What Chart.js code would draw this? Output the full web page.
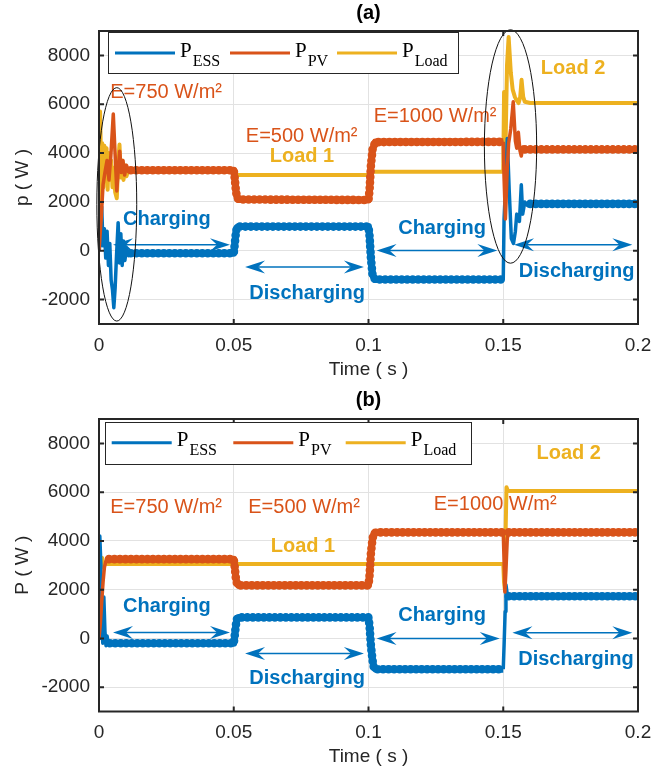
<!DOCTYPE html>
<html>
<head>
<meta charset="utf-8">
<script src="https://cdn.jsdelivr.net/npm/chart.js@4.4.1/dist/chart.umd.min.js"></script>
<style>
  html, body { margin: 0; padding: 0; background: #fff; }
  #wrap { position: relative; width: 668px; height: 774px; }
  .panel { position: absolute; left: 0; width: 668px; height: 387px; }
</style>
</head>
<body>
<div id="wrap">
  <div class="panel" style="top:0"><canvas id="ca" width="668" height="387"></canvas></div>
  <div class="panel" style="top:387px"><canvas id="cb" width="668" height="387"></canvas></div>
</div>
<script>
// ---- axis ticks ----
const timeTicks = [0, 0.05, 0.1, 0.15, 0.2];
const powerTicks = [-2000, 0, 2000, 4000, 6000, 8000];
const seriesNames = [['P', 'ESS'], ['P', 'PV'], ['P', 'Load']];

// ---- panel (a): power flows, time in s, power in W ----
const tEssA = [0, 0.0005, 0.001, 0.0015, 0.002, 0.0025, 0.003, 0.0035, 0.004, 0.0045,
  0.005, 0.0055, 0.006, 0.0065, 0.0071, 0.0076, 0.0081, 0.0086, 0.0091, 0.0096,
  0.0102, 0.011, 0.0118, 0.05, 0.0504, 0.0508, 0.0512, 0.0518, 0.1, 0.1004,
  0.1009, 0.1015, 0.1025, 0.15, 0.1503, 0.151, 0.1515, 0.1522, 0.153, 0.1538,
  0.1545, 0.155, 0.156, 0.1567, 0.1572, 0.158, 0.159, 0.16, 0.2];
const pEssA = [0, 300, 1800, 200, 900, -300, 800, -600, 300, -1200,
  -1600, -2330, -1500, -200, 1150, -500, 700, -600, 400, -400,
  100, -200, -100, -100, 300, 750, 950, 990, 990, 600,
  -300, -1000, -1180, -1180, 1300, 3000, 4600, 2500, 500, 300,
  800, 1500, 1200, 2700, 1500, 2000, 1850, 1920, 1920];

const tPvA = [0, 0.0008, 0.0015, 0.0022, 0.003, 0.0037, 0.0044, 0.0053, 0.006, 0.0066,
  0.0072, 0.0077, 0.0083, 0.0089, 0.0095, 0.0102, 0.011, 0.0118, 0.05, 0.0504,
  0.0508, 0.0512, 0.0518, 0.1, 0.1004, 0.1009, 0.1015, 0.1025, 0.15, 0.1503,
  0.1508, 0.1515, 0.152, 0.1528, 0.1537, 0.1545, 0.155, 0.1556, 0.1562, 0.1567,
  0.1572, 0.158, 0.2];
const pPvA = [0, 1300, 2700, 3200, 3700, 2900, 3900, 5600, 3900, 2450,
  3400, 4080, 3200, 3700, 3100, 3500, 3250, 3300, 3300, 2950,
  2450, 2200, 2100, 2080, 2500, 3500, 4150, 4450, 4460, 3000,
  1300, 3400, 4400, 5000, 6100, 4500, 4200, 4850, 4100, 3880,
  4250, 4150, 4150];

const tLoadA = [0, 0.0004, 0.0008, 0.0012, 0.0016, 0.002, 0.0024, 0.0028, 0.0032, 0.0036,
  0.004, 0.0045, 0.005, 0.0055, 0.006, 0.0066, 0.0071, 0.0076, 0.0081, 0.0086,
  0.0091, 0.0096, 0.0102, 0.011, 0.0118, 0.05, 0.0506, 0.0512, 0.1, 0.1006,
  0.1012, 0.15, 0.1503, 0.1508, 0.1514, 0.152, 0.1528, 0.1535, 0.1543, 0.155,
  0.1557, 0.1563, 0.1568, 0.1574, 0.158, 0.16, 0.2];
const pLoadA = [0, 5700, 3400, 4400, 2600, 4300, 3000, 4200, 2500, 4000,
  2900, 3700, 2600, 3400, 2400, 2150, 3600, 4350, 3000, 3700,
  2900, 3500, 3050, 3350, 3250, 3250, 3150, 3100, 3100, 3180,
  3240, 3240, 6500, 4000, 7600, 8750, 7300, 6600, 6300, 6150,
  6050, 6300, 7000, 6300, 6100, 6050, 6050];

// ---- panel (b) ----
const tEssB = [0, 0.0003, 0.0007, 0.001, 0.0014, 0.0018, 0.0022, 0.0026, 0.003, 0.0035,
  0.004, 0.05, 0.0504, 0.0508, 0.0512, 0.0518, 0.1, 0.1004, 0.1009, 0.1015,
  0.102, 0.1027, 0.15, 0.1503, 0.1507, 0.151, 0.1515, 0.152, 0.2];
const pEssB = [0, 4200, 3000, 800, -200, 1700, 300, -300, 100, -250,
  -200, -200, 150, 550, 800, 860, 860, 500, -300, -900,
  -1200, -1265, -1265, -300, 1100, 2200, 1800, 1726, 1726];

const tPvB = [0, 0.0005, 0.001, 0.0015, 0.002, 0.0025, 0.003, 0.0037, 0.05, 0.0504,
  0.0508, 0.0512, 0.0518, 0.1, 0.1004, 0.1009, 0.1015, 0.102, 0.1027, 0.15,
  0.1503, 0.1506, 0.151, 0.1515, 0.152, 0.2];
const pPvB = [0, 600, 1500, 2300, 2900, 3150, 3250, 3250, 3250, 2900,
  2450, 2250, 2175, 2175, 2600, 3500, 4100, 4300, 4350, 4350,
  3200, 1900, 2800, 4100, 4350, 4350];

const tLoadB = [0, 0.0004, 0.0008, 0.0012, 0.0016, 0.002, 0.003, 0.05, 0.1, 0.15,
  0.1503, 0.1506, 0.1509, 0.1512, 0.1517, 0.1525, 0.2];
const pLoadB = [0, 3400, 2900, 3300, 3000, 3100, 3050, 3050, 3050, 3050,
  2300, 2000, 4500, 6200, 6050, 6050, 6050];

// ---- styling ----
const BLUE = '#0072BD', ORANGE = '#D95319', YELLOW = '#EDB120', AXIS = '#262626', GRID = '#e2e2e2';
const SANS = '"Liberation Sans", Arial, Helvetica, sans-serif';
const SERIF = '"Liberation Serif", "Times New Roman", serif';
const CLEAR = 'rgba(0,0,0,0)';

const panels = [
  {
    canvas: 'ca', title: '(a)', yTitle: 'p ( W )', top: 31, bottom: 324, xTitleY: 370, titleY: 13.5,
    ess: [tEssA, pEssA], pv: [tPvA, pPvA], load: [tLoadA, pLoadA],
    fast: [[0, 0.0118], [0.15, 0.16]],
    legend: { box: [108, 32, 458, 73], lineY: 53, x: [115, 230, 337] },
    notes: [
      { text: 'E=750 W/m²', t: 0.0249, v: 6500, color: ORANGE },
      { text: 'E=500 W/m²', t: 0.0752, v: 4665, color: ORANGE },
      { text: 'Load 1', t: 0.0753, v: 3850, color: YELLOW, bold: true },
      { text: 'E=1000 W/m²', t: 0.1247, v: 5480, color: ORANGE },
      { text: 'Load 2', t: 0.1759, v: 7460, color: YELLOW, bold: true },
      { text: 'Charging', t: 0.0252, v: 1290, color: BLUE, bold: true },
      { text: 'Discharging', t: 0.0772, v: -1730, color: BLUE, bold: true },
      { text: 'Charging', t: 0.1273, v: 930, color: BLUE, bold: true },
      { text: 'Discharging', t: 0.1772, v: -850, color: BLUE, bold: true }
    ],
    arrows: [
      { t0: 0.0052, t1: 0.0486, v: 245 },
      { t0: 0.0542, t1: 0.0983, v: -665 },
      { t0: 0.1030, t1: 0.1478, v: 10 },
      { t0: 0.1540, t1: 0.1979, v: 245 }
    ],
    ellipses: [
      { t: 0.0066, v: 1900, rt: 0.0074, rv: 4780 },
      { t: 0.1527, v: 4270, rt: 0.0097, rv: 4780 }
    ]
  },
  {
    canvas: 'cb', title: '(b)', yTitle: 'P ( W )', top: 32, bottom: 324.5, xTitleY: 369.5, titleY: 13,
    ess: [tEssB, pEssB], pv: [tPvB, pPvB], load: [tLoadB, pLoadB],
    fast: [[0, 0.004], [0.15, 0.152]],
    legend: { box: [105, 35, 471, 77], lineY: 55.7, x: [111.7, 233.3, 345.7] },
    notes: [
      { text: 'E=750 W/m²', t: 0.0249, v: 5370, color: ORANGE },
      { text: 'E=500 W/m²', t: 0.0761, v: 5370, color: ORANGE },
      { text: 'E=1000 W/m²', t: 0.1470, v: 5510, color: ORANGE },
      { text: 'Load 1', t: 0.0757, v: 3780, color: YELLOW, bold: true },
      { text: 'Load 2', t: 0.1743, v: 7590, color: YELLOW, bold: true },
      { text: 'Charging', t: 0.0252, v: 1290, color: BLUE, bold: true },
      { text: 'Discharging', t: 0.0772, v: -1660, color: BLUE, bold: true },
      { text: 'Charging', t: 0.1273, v: 950, color: BLUE, bold: true },
      { text: 'Discharging', t: 0.1770, v: -886, color: BLUE, bold: true }
    ],
    arrows: [
      { t0: 0.0052, t1: 0.0486, v: 245 },
      { t0: 0.0542, t1: 0.0983, v: -625 },
      { t0: 0.1030, t1: 0.1487, v: 0 },
      { t0: 0.1534, t1: 0.1979, v: 230 }
    ],
    ellipses: []
  }
];

const toPoints = (t, p) => t.map((x, i) => ({ x, y: p[i] }));

function inFast(wins, ctx) {
  const a = ctx.p0.parsed.x, b = ctx.p1.parsed.x;
  return wins.some(w => a >= w[0] - 1e-9 && b <= w[1] + 1e-9);
}

function arrowHead(ctx, x, y, dir) {
  const L = 20, W = 6.5, N = 13;
  ctx.beginPath();
  ctx.moveTo(x, y);
  ctx.lineTo(x - dir * L, y - W);
  ctx.lineTo(x - dir * N, y);
  ctx.lineTo(x - dir * L, y + W);
  ctx.closePath();
  ctx.fill();
}

function decorate(chart, P) {
  const { ctx, chartArea: a } = chart;
  const xs = chart.scales.x, ys = chart.scales.y;
  ctx.save();

  // annotation texts
  ctx.textAlign = 'center';
  ctx.textBaseline = 'middle';
  P.notes.forEach(n => {
    ctx.font = (n.bold ? 'bold ' : '') + '20px ' + SANS;
    ctx.fillStyle = n.color;
    ctx.fillText(n.text, xs.getPixelForValue(n.t), ys.getPixelForValue(n.v));
  });

  // double-headed arrows for the charge / discharge intervals
  ctx.strokeStyle = BLUE;
  ctx.fillStyle = BLUE;
  ctx.lineWidth = 1.5;
  P.arrows.forEach(r => {
    const x0 = xs.getPixelForValue(r.t0), x1 = xs.getPixelForValue(r.t1), y = ys.getPixelForValue(r.v);
    ctx.beginPath();
    ctx.moveTo(x0 + 12, y);
    ctx.lineTo(x1 - 12, y);
    ctx.stroke();
    arrowHead(ctx, x1, y, 1);
    arrowHead(ctx, x0, y, -1);
  });

  // ellipses around the transients
  ctx.strokeStyle = '#111';
  ctx.lineWidth = 1;
  P.ellipses.forEach(e => {
    const cx = xs.getPixelForValue(e.t), cy = ys.getPixelForValue(e.v);
    const rx = xs.getPixelForValue(e.t + e.rt) - cx;
    const ry = cy - ys.getPixelForValue(e.v + e.rv);
    ctx.beginPath();
    ctx.ellipse(cx, cy, rx, ry, 0, 0, Math.PI * 2);
    ctx.stroke();
  });

  // axes box with inward ticks
  ctx.strokeStyle = AXIS;
  ctx.lineWidth = 2;
  ctx.strokeRect(a.left, a.top, a.right - a.left, a.bottom - a.top);
  ctx.beginPath();
  timeTicks.forEach(t => {
    const x = xs.getPixelForValue(t);
    ctx.moveTo(x, a.bottom); ctx.lineTo(x, a.bottom - 5);
    ctx.moveTo(x, a.top); ctx.lineTo(x, a.top + 5);
  });
  powerTicks.forEach(v => {
    const y = ys.getPixelForValue(v);
    ctx.moveTo(a.left, y); ctx.lineTo(a.left + 5, y);
    ctx.moveTo(a.right, y); ctx.lineTo(a.right - 5, y);
  });
  ctx.stroke();

  // legend
  const L = P.legend, b = L.box;
  ctx.fillStyle = '#fff';
  ctx.fillRect(b[0], b[1], b[2] - b[0], b[3] - b[1]);
  ctx.strokeStyle = AXIS;
  ctx.lineWidth = 1;
  ctx.strokeRect(Math.round(b[0]) + 0.5, Math.round(b[1]) + 0.5, Math.round(b[2] - b[0]), Math.round(b[3] - b[1]));
  const colors = [BLUE, ORANGE, YELLOW];
  ctx.textAlign = 'left';
  ctx.textBaseline = 'alphabetic';
  seriesNames.forEach((nm, i) => {
    const x = L.x[i];
    ctx.strokeStyle = colors[i];
    ctx.lineWidth = 3;
    ctx.beginPath();
    ctx.moveTo(x, L.lineY); ctx.lineTo(x + 60, L.lineY);
    ctx.stroke();
    ctx.fillStyle = '#000';
    ctx.font = '21px ' + SERIF;
    ctx.fillText(nm[0], x + 65, L.lineY + 3.5);
    const w = ctx.measureText(nm[0]).width;
    ctx.font = '16px ' + SERIF;
    ctx.fillText(nm[1], x + 66 + w, L.lineY + 12.5);
  });

  // titles
  ctx.textAlign = 'center';
  ctx.textBaseline = 'middle';
  const midX = (a.left + a.right) / 2, midY = (a.top + a.bottom) / 2;
  ctx.font = 'bold 20px ' + SANS;
  ctx.fillStyle = '#000';
  ctx.fillText(P.title, midX, P.titleY);
  ctx.fillStyle = AXIS;
  ctx.font = '19px ' + SANS;
  ctx.fillText('Time ( s )', midX, P.xTitleY);
  ctx.save();
  ctx.translate(23, midY);
  ctx.rotate(-Math.PI / 2);
  ctx.fillText(P.yTitle, 0, 0);
  ctx.restore();

  ctx.restore();
}

function rippleSet(series, color, wins) {
  // dotted overlay with round caps gives the band its scalloped edge
  return {
    data: toPoints(series[0], series[1]),
    borderColor: color, borderWidth: 8.6, borderDash: [0, 5.5], borderCapStyle: 'round',
    segment: { borderColor: c => inFast(wins, c) ? CLEAR : undefined }
  };
}
function mainSet(series, color, wins) {
  return {
    data: toPoints(series[0], series[1]),
    borderColor: color, borderWidth: 7,
    segment: { borderWidth: c => inFast(wins, c) ? 3.5 : undefined }
  };
}

panels.forEach(P => {
  const datasets = [
    rippleSet(P.pv, ORANGE, P.fast),
    mainSet(P.pv, ORANGE, P.fast),
    rippleSet(P.ess, BLUE, P.fast),
    mainSet(P.ess, BLUE, P.fast),
    { data: toPoints(P.load[0], P.load[1]), borderColor: YELLOW, borderWidth: 4 }
  ];
  datasets.forEach(d => { d.pointRadius = 0; d.tension = 0; d.clip = 0; d.borderJoinStyle = 'round'; });

  new Chart(document.getElementById(P.canvas), {
    type: 'line',
    data: { datasets },
    options: {
      responsive: false,
      animation: false,
      events: [],
      layout: { padding: { left: 0, right: 30, top: P.top, bottom: 0 } },
      plugins: { legend: { display: false }, tooltip: { enabled: false }, title: { display: false } },
      scales: {
        x: {
          type: 'linear', min: 0, max: 0.2,
          afterBuildTicks: s => { s.ticks = timeTicks.map(v => ({ value: v })); },
          afterFit: s => { s.height = 387 - P.bottom; },
          grid: { color: GRID, lineWidth: 1, drawTicks: false },
          border: { display: false },
          ticks: { font: { family: SANS, size: 19 }, color: AXIS, padding: 10, maxRotation: 0, autoSkip: false, callback: v => String(v) }
        },
        y: {
          type: 'linear', min: -3000, max: 9000,
          afterBuildTicks: s => { s.ticks = powerTicks.map(v => ({ value: v })); },
          afterFit: s => { s.width = 99; },
          grid: { color: GRID, lineWidth: 1, drawTicks: false },
          border: { display: false },
          ticks: { font: { family: SANS, size: 19 }, color: AXIS, padding: 9, autoSkip: false, callback: v => String(v) }
        }
      }
    },
    plugins: [{ id: 'panelDecor', afterDatasetsDraw: chart => decorate(chart, P) }]
  });
});
</script>
</body>
</html>
